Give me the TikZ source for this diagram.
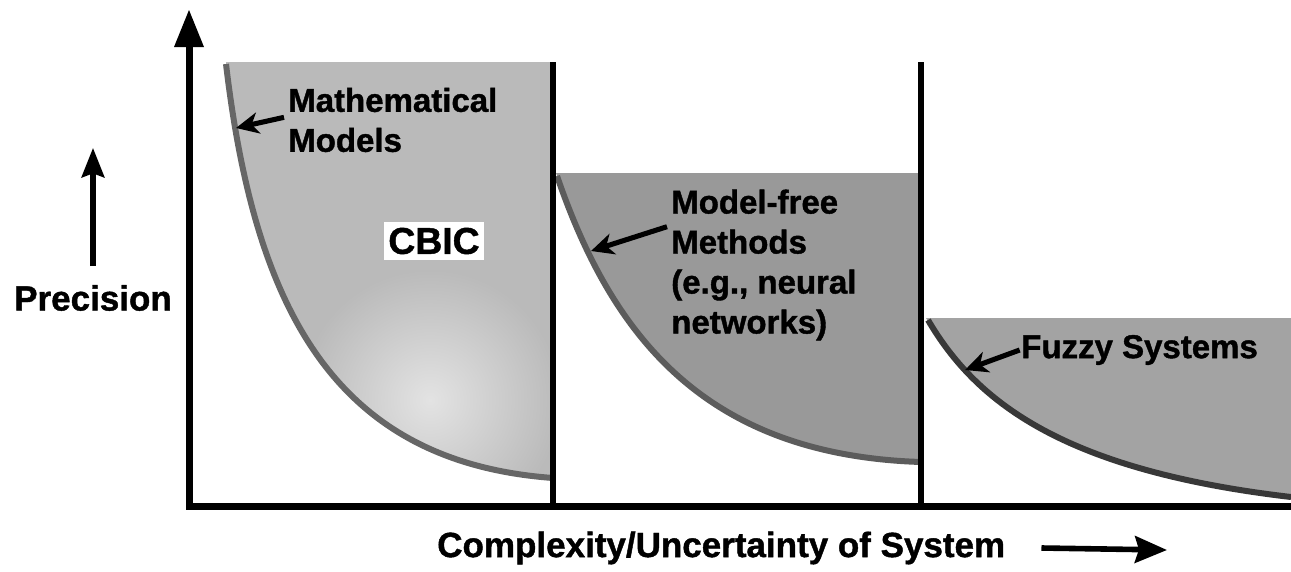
\documentclass[tikz,border=0pt]{standalone}
\usepackage{fontspec}
\setmainfont[BoldFeatures={FakeBold=1.2}]{Liberation Sans}
\usetikzlibrary{arrows.meta}

\definecolor{shadeA}{gray}{0.73}
\definecolor{shadeB}{gray}{0.60}
\definecolor{shadeC}{gray}{0.64}
\definecolor{curveA}{gray}{0.40}
\definecolor{curveB}{gray}{0.36}
\definecolor{curveC}{gray}{0.22}

\tikzset{
  inlabel/.style={font=\fontsize{24.75}{30}\selectfont\bfseries, inner sep=0pt, align=left},
  axlabel/.style={font=\fontsize{26.25}{31}\selectfont\bfseries, inner sep=0pt},
  pointer/.style={line width=3.8pt, -{Stealth[length=17pt,width=16pt,inset=5pt]}},
  divider/.style={line width=3.8pt},
}

\begin{document}
\begin{tikzpicture}[x=0.75pt,y=0.75pt,yscale=-1,xscale=1]
\useasboundingbox (0,0) rectangle (1291,571);

%Shape: region under mathematical models
\begin{scope}
\clip (226,62) .. controls (255,310) and (335,462) .. (553,478) -- (553,62) -- cycle ;
\fill [shadeA] (200,40) rectangle (560,500) ;
\shade [inner color=gray!22, outer color=shadeA] (430,400) circle [radius=130] ;
\end{scope}
%Shape: region under model-free methods
\fill [shadeB] (556,173) .. controls (610,330) and (700,455) .. (921,462) -- (921,173) -- cycle ;
%Shape: region under fuzzy systems
\fill [shadeC] (926,318) .. controls (975,400) and (1060,470) .. (1291,497) -- (1291,318) -- cycle ;

%Curve Lines
\draw [curveA, line width=4.5pt] (226,64) .. controls (255,310) and (335,462) .. (553,478) ;
%Curve Lines
\draw [curveB, line width=4.5pt] (557,176) .. controls (610,330) and (700,455) .. (921,462) ;
%Curve Lines
\draw [curveC, line width=4.5pt] (928,320) .. controls (975,400) and (1060,470) .. (1291,497) ;

%Straight Lines
\draw [divider] (553,62) -- (553,506) ;
%Straight Lines
\draw [divider] (921,62) -- (921,506) ;

% axes
\coordinate (origin) at (189,506) ;
\coordinate (ytop) at (189,10) ;
\coordinate (xend) at (1291,506) ;
\draw [line width=5.25pt, line cap=rect] (xend) -- (origin) -- ([yshift=20pt]ytop) ;
\fill (ytop) -- (204,47) -- (174,47) -- cycle ;

% Text Node
\draw (288,120) node [inlabel, anchor=west] (mathlabel) {Mathematical\\Models};
\coordinate (mathpt) at (236,128) ;
\draw [pointer] ([xshift=-3pt,yshift=-2pt]mathlabel.west) -- (mathpt) ;

% Text Node
\draw (434,241) node [inlabel, font=\fontsize{28}{32}\selectfont\bfseries, fill=white, inner xsep=3pt, inner ysep=4pt] (cbic) {CBIC};

% Text Node
\draw (671,265) node [inlabel, anchor=west] (modelfree) {Model-free\\Methods\\(e.g., neural\\networks)};
\coordinate (freept) at (591,251) ;
\draw [pointer] ([xshift=-3pt,yshift=28pt]modelfree.north west) -- (freept) ;

% Text Node
\draw (1021,350) node [inlabel, anchor=west] (fuzzy) {Fuzzy Systems};
\coordinate (fuzzypt) at (965,370) ;
\draw [pointer] ([xshift=-1pt]fuzzy.west) -- (fuzzypt) ;

% Text Node
\draw (93,298) node [axlabel] (precision) {Precision};
\coordinate (precup) at (93,148) ;
\draw [line width=3.8pt, -{Stealth[length=22pt,width=17pt,inset=3pt]}] ([yshift=-14pt]precision.north) -- (precup) ;

% Text Node
\draw (437,548) node [axlabel, anchor=west] (complexity) {Complexity/Uncertainty of System};
\coordinate (cplxend) at (1167,550) ;
\draw [line width=4.2pt, -{Stealth[length=24pt,width=20pt,inset=3pt]}] ([xshift=27pt]complexity.east) -- (cplxend) ;

\end{tikzpicture}
\end{document}
